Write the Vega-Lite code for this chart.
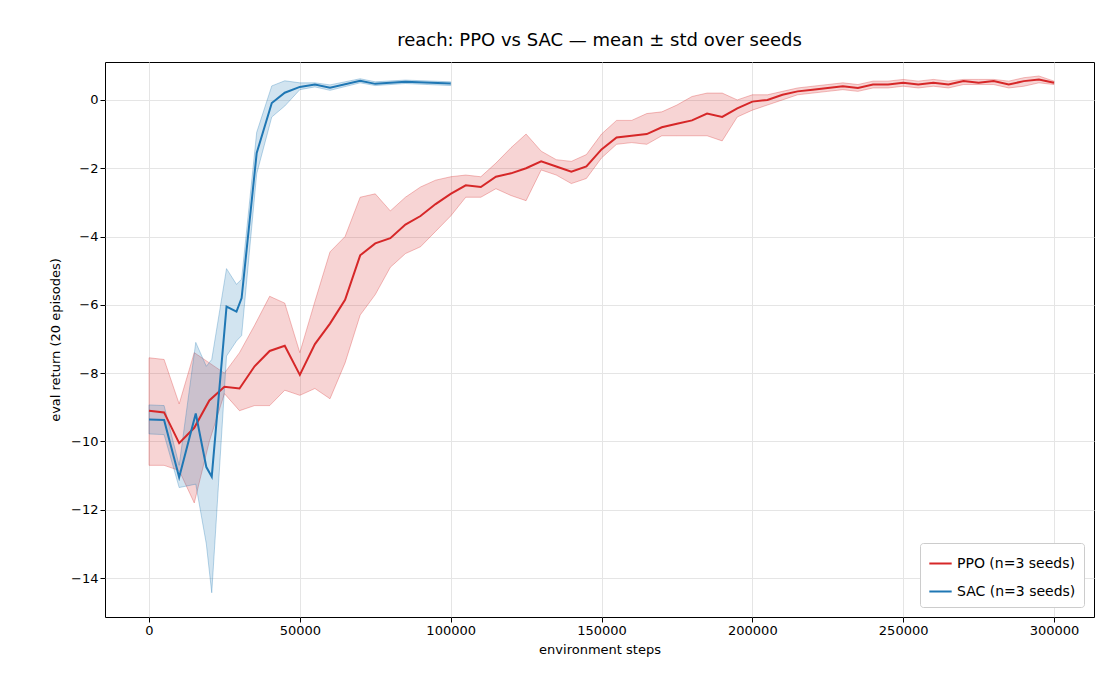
{
  "$schema": "https://vega.github.io/schema/vega-lite/v6.json",
  "autosize": "none",
  "width": 989,
  "height": 555,
  "padding": {"left": 105, "top": 62, "right": 26, "bottom": 83},
  "background": "white",
  "title": {"text": "reach: PPO vs SAC — mean ± std over seeds", "fontSize": 18, "fontWeight": "normal", "font": "DejaVu Sans", "offset": 12},
  "config": {
    "font": "DejaVu Sans",
    "view": {"stroke": "black", "strokeWidth": 1},
    "axis": {"labelFontSize": 13, "titleFontSize": 13, "titleFontWeight": "normal", "gridColor": "#e5e5e5", "tickColor": "black", "labelColor": "black", "domain": false}
  },
  "data": {"values": [
    {"algo": "PPO (n=3 seeds)", "step": 0, "mean": -9.1, "lo": -10.7, "hi": -7.55},
    {"algo": "PPO (n=3 seeds)", "step": 5000, "mean": -9.15, "lo": -10.7, "hi": -7.6},
    {"algo": "PPO (n=3 seeds)", "step": 10000, "mean": -10.05, "lo": -10.85, "hi": -8.9},
    {"algo": "PPO (n=3 seeds)", "step": 15000, "mean": -9.6, "lo": -11.8, "hi": -7.4},
    {"algo": "PPO (n=3 seeds)", "step": 20000, "mean": -8.8, "lo": -10.0, "hi": -7.7},
    {"algo": "PPO (n=3 seeds)", "step": 25000, "mean": -8.4, "lo": -8.6, "hi": -8.0},
    {"algo": "PPO (n=3 seeds)", "step": 30000, "mean": -8.45, "lo": -9.1, "hi": -7.4},
    {"algo": "PPO (n=3 seeds)", "step": 35000, "mean": -7.8, "lo": -8.95, "hi": -6.6},
    {"algo": "PPO (n=3 seeds)", "step": 40000, "mean": -7.35, "lo": -8.95, "hi": -5.75},
    {"algo": "PPO (n=3 seeds)", "step": 45000, "mean": -7.2, "lo": -8.5, "hi": -5.95},
    {"algo": "PPO (n=3 seeds)", "step": 50000, "mean": -8.05, "lo": -8.65, "hi": -7.4},
    {"algo": "PPO (n=3 seeds)", "step": 55000, "mean": -7.15, "lo": -8.45, "hi": -5.9},
    {"algo": "PPO (n=3 seeds)", "step": 60000, "mean": -6.55, "lo": -8.75, "hi": -4.45},
    {"algo": "PPO (n=3 seeds)", "step": 65000, "mean": -5.85, "lo": -7.7, "hi": -4.0},
    {"algo": "PPO (n=3 seeds)", "step": 70000, "mean": -4.55, "lo": -6.3, "hi": -2.85},
    {"algo": "PPO (n=3 seeds)", "step": 75000, "mean": -4.2, "lo": -5.7, "hi": -2.75},
    {"algo": "PPO (n=3 seeds)", "step": 80000, "mean": -4.05, "lo": -4.9, "hi": -3.25},
    {"algo": "PPO (n=3 seeds)", "step": 85000, "mean": -3.65, "lo": -4.5, "hi": -2.85},
    {"algo": "PPO (n=3 seeds)", "step": 90000, "mean": -3.4, "lo": -4.3, "hi": -2.55},
    {"algo": "PPO (n=3 seeds)", "step": 95000, "mean": -3.05, "lo": -3.85, "hi": -2.35},
    {"algo": "PPO (n=3 seeds)", "step": 100000, "mean": -2.75, "lo": -3.4, "hi": -2.25},
    {"algo": "PPO (n=3 seeds)", "step": 105000, "mean": -2.5, "lo": -2.85, "hi": -2.2},
    {"algo": "PPO (n=3 seeds)", "step": 110000, "mean": -2.55, "lo": -2.85, "hi": -2.25},
    {"algo": "PPO (n=3 seeds)", "step": 115000, "mean": -2.25, "lo": -2.6, "hi": -1.85},
    {"algo": "PPO (n=3 seeds)", "step": 120000, "mean": -2.15, "lo": -2.8, "hi": -1.4},
    {"algo": "PPO (n=3 seeds)", "step": 125000, "mean": -2.0, "lo": -2.95, "hi": -1.0},
    {"algo": "PPO (n=3 seeds)", "step": 130000, "mean": -1.8, "lo": -2.05, "hi": -1.5},
    {"algo": "PPO (n=3 seeds)", "step": 135000, "mean": -1.95, "lo": -2.2, "hi": -1.75},
    {"algo": "PPO (n=3 seeds)", "step": 140000, "mean": -2.1, "lo": -2.45, "hi": -1.8},
    {"algo": "PPO (n=3 seeds)", "step": 145000, "mean": -1.95, "lo": -2.3, "hi": -1.6},
    {"algo": "PPO (n=3 seeds)", "step": 150000, "mean": -1.45, "lo": -1.7, "hi": -1.0},
    {"algo": "PPO (n=3 seeds)", "step": 155000, "mean": -1.1, "lo": -1.3, "hi": -0.6},
    {"algo": "PPO (n=3 seeds)", "step": 160000, "mean": -1.05, "lo": -1.25, "hi": -0.6},
    {"algo": "PPO (n=3 seeds)", "step": 165000, "mean": -1.0, "lo": -1.3, "hi": -0.4},
    {"algo": "PPO (n=3 seeds)", "step": 170000, "mean": -0.8, "lo": -1.05, "hi": -0.35},
    {"algo": "PPO (n=3 seeds)", "step": 175000, "mean": -0.7, "lo": -1.05, "hi": -0.15},
    {"algo": "PPO (n=3 seeds)", "step": 180000, "mean": -0.6, "lo": -1.05, "hi": 0.1},
    {"algo": "PPO (n=3 seeds)", "step": 185000, "mean": -0.4, "lo": -1.05, "hi": 0.2},
    {"algo": "PPO (n=3 seeds)", "step": 190000, "mean": -0.5, "lo": -1.2, "hi": 0.2},
    {"algo": "PPO (n=3 seeds)", "step": 195000, "mean": -0.25, "lo": -0.5, "hi": 0.0},
    {"algo": "PPO (n=3 seeds)", "step": 200000, "mean": -0.05, "lo": -0.3, "hi": 0.15},
    {"algo": "PPO (n=3 seeds)", "step": 205000, "mean": 0.0, "lo": -0.15, "hi": 0.15},
    {"algo": "PPO (n=3 seeds)", "step": 210000, "mean": 0.15, "lo": 0.0, "hi": 0.25},
    {"algo": "PPO (n=3 seeds)", "step": 215000, "mean": 0.25, "lo": 0.15, "hi": 0.35},
    {"algo": "PPO (n=3 seeds)", "step": 220000, "mean": 0.3, "lo": 0.2, "hi": 0.4},
    {"algo": "PPO (n=3 seeds)", "step": 225000, "mean": 0.35, "lo": 0.25, "hi": 0.45},
    {"algo": "PPO (n=3 seeds)", "step": 230000, "mean": 0.4, "lo": 0.3, "hi": 0.5},
    {"algo": "PPO (n=3 seeds)", "step": 235000, "mean": 0.35, "lo": 0.25, "hi": 0.45},
    {"algo": "PPO (n=3 seeds)", "step": 240000, "mean": 0.45, "lo": 0.35, "hi": 0.55},
    {"algo": "PPO (n=3 seeds)", "step": 245000, "mean": 0.45, "lo": 0.35, "hi": 0.55},
    {"algo": "PPO (n=3 seeds)", "step": 250000, "mean": 0.5, "lo": 0.4, "hi": 0.6},
    {"algo": "PPO (n=3 seeds)", "step": 255000, "mean": 0.45, "lo": 0.35, "hi": 0.55},
    {"algo": "PPO (n=3 seeds)", "step": 260000, "mean": 0.5, "lo": 0.4, "hi": 0.6},
    {"algo": "PPO (n=3 seeds)", "step": 265000, "mean": 0.45, "lo": 0.35, "hi": 0.55},
    {"algo": "PPO (n=3 seeds)", "step": 270000, "mean": 0.55, "lo": 0.45, "hi": 0.6},
    {"algo": "PPO (n=3 seeds)", "step": 275000, "mean": 0.5, "lo": 0.45, "hi": 0.6},
    {"algo": "PPO (n=3 seeds)", "step": 280000, "mean": 0.55, "lo": 0.45, "hi": 0.6},
    {"algo": "PPO (n=3 seeds)", "step": 285000, "mean": 0.45, "lo": 0.35, "hi": 0.55},
    {"algo": "PPO (n=3 seeds)", "step": 290000, "mean": 0.55, "lo": 0.4, "hi": 0.65},
    {"algo": "PPO (n=3 seeds)", "step": 295000, "mean": 0.6, "lo": 0.5, "hi": 0.7},
    {"algo": "PPO (n=3 seeds)", "step": 300000, "mean": 0.5, "lo": 0.45, "hi": 0.55},
    {"algo": "SAC (n=3 seeds)", "step": 0, "mean": -9.36, "lo": -9.78, "hi": -8.93},
    {"algo": "SAC (n=3 seeds)", "step": 5000, "mean": -9.37, "lo": -9.8, "hi": -8.95},
    {"algo": "SAC (n=3 seeds)", "step": 10000, "mean": -11.05, "lo": -11.35, "hi": -10.7},
    {"algo": "SAC (n=3 seeds)", "step": 15500, "mean": -9.18, "lo": -11.25, "hi": -7.1},
    {"algo": "SAC (n=3 seeds)", "step": 19000, "mean": -10.75, "lo": -13.0, "hi": -7.8},
    {"algo": "SAC (n=3 seeds)", "step": 20800, "mean": -11.03, "lo": -14.43, "hi": -7.6},
    {"algo": "SAC (n=3 seeds)", "step": 25700, "mean": -6.05, "lo": -7.5, "hi": -4.94},
    {"algo": "SAC (n=3 seeds)", "step": 29000, "mean": -6.2, "lo": -7.06, "hi": -5.4},
    {"algo": "SAC (n=3 seeds)", "step": 30700, "mean": -5.8, "lo": -6.9, "hi": -5.25},
    {"algo": "SAC (n=3 seeds)", "step": 35700, "mean": -1.55, "lo": -2.16, "hi": -0.95},
    {"algo": "SAC (n=3 seeds)", "step": 40700, "mean": -0.09, "lo": -0.5, "hi": 0.41},
    {"algo": "SAC (n=3 seeds)", "step": 45000, "mean": 0.21, "lo": -0.18, "hi": 0.56},
    {"algo": "SAC (n=3 seeds)", "step": 50000, "mean": 0.38, "lo": 0.3, "hi": 0.5},
    {"algo": "SAC (n=3 seeds)", "step": 55000, "mean": 0.45, "lo": 0.38, "hi": 0.5},
    {"algo": "SAC (n=3 seeds)", "step": 60000, "mean": 0.36, "lo": 0.28, "hi": 0.44},
    {"algo": "SAC (n=3 seeds)", "step": 70000, "mean": 0.56, "lo": 0.5, "hi": 0.62},
    {"algo": "SAC (n=3 seeds)", "step": 75000, "mean": 0.47, "lo": 0.42, "hi": 0.53},
    {"algo": "SAC (n=3 seeds)", "step": 85000, "mean": 0.53, "lo": 0.48, "hi": 0.58},
    {"algo": "SAC (n=3 seeds)", "step": 100000, "mean": 0.48, "lo": 0.42, "hi": 0.53}
  ]},
  "encoding": {
    "x": {"field": "step", "type": "quantitative", "title": "environment steps",
      "scale": {"domain": [-14586, 313260], "nice": false, "zero": false},
      "axis": {"values": [0, 50000, 100000, 150000, 200000, 250000, 300000], "format": "d", "labelFlush": false, "titlePadding": 6}},
    "color": {"field": "algo", "type": "nominal",
      "scale": {"domain": ["PPO (n=3 seeds)", "SAC (n=3 seeds)"], "range": ["#d62728", "#1f77b4"]},
      "legend": {"title": null, "orient": "bottom-right", "symbolType": "stroke", "symbolStrokeWidth": 2, "symbolSize": 500,
        "labelFontSize": 14, "strokeColor": "#cccccc", "fillColor": "white", "padding": 8, "rowPadding": 8, "offset": 10, "cornerRadius": 3}}
  },
  "layer": [
    {
      "mark": {"type": "area", "fillOpacity": 0.2, "strokeOpacity": 0.3, "strokeWidth": 1},
      "encoding": {
        "y": {"field": "lo", "type": "quantitative"},
        "y2": {"field": "hi"},
        "stroke": {"field": "algo", "type": "nominal", "legend": null,
          "scale": {"domain": ["PPO (n=3 seeds)", "SAC (n=3 seeds)"], "range": ["#d62728", "#1f77b4"]}}
      }
    },
    {
      "mark": {"type": "line", "strokeWidth": 2},
      "encoding": {
        "y": {"field": "mean", "type": "quantitative", "title": "eval return (20 episodes)",
          "scale": {"domain": [-15.14, 1.11], "nice": false, "zero": false},
          "axis": {"values": [-14, -12, -10, -8, -6, -4, -2, 0], "titlePadding": 8}}
      }
    }
  ]
}
